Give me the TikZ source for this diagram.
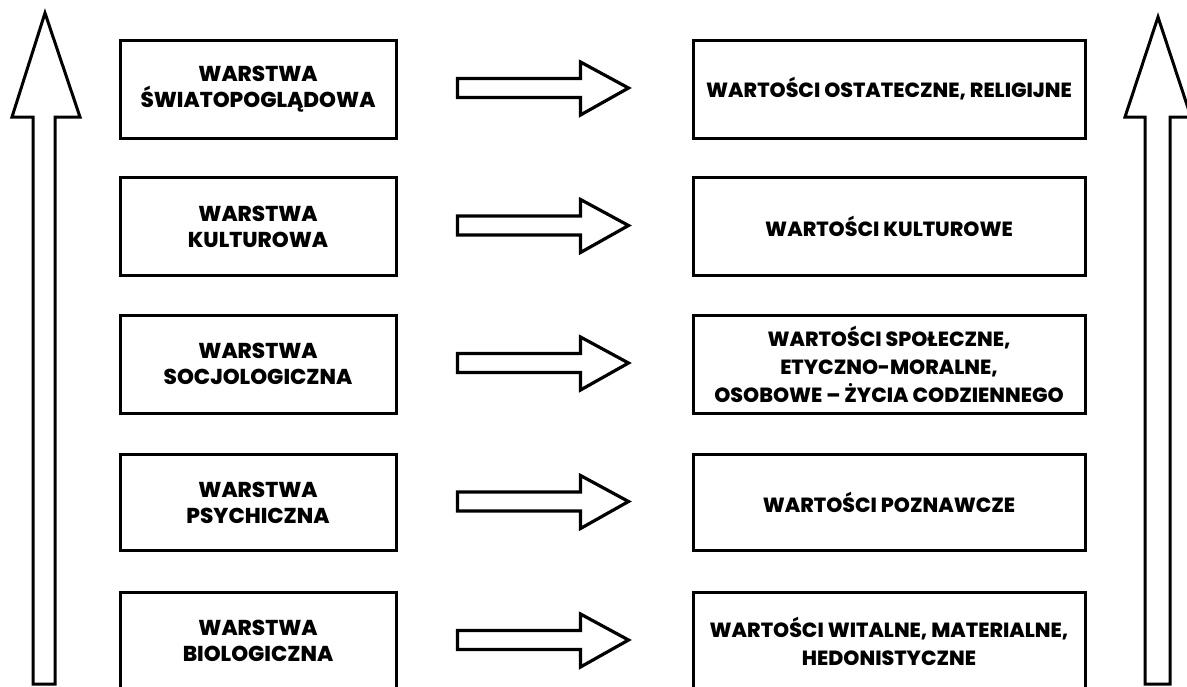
\documentclass[tikz,border=0pt]{standalone}
\usepackage{fontspec}
\setmainfont{Poppins}[BoldFont={Poppins ExtraBold}]
\usetikzlibrary{calc}
\tikzset{
  lbox/.style={draw, line width=3pt, minimum width=276pt, minimum height=98pt, align=center, font=\fontsize{21.5}{26}\selectfont\bfseries, inner sep=0pt},
  rbox/.style={draw, line width=3pt, minimum width=392pt, minimum height=98pt, align=center, font=\fontsize{20.5}{28}\selectfont\bfseries, inner sep=0pt},
  bigarrow/.style={draw, line width=3pt, line join=miter, fill=white},
  midarrow/.style={draw, line width=3.2pt, line join=miter, fill=white},
}
\begin{document}
\begin{tikzpicture}[x=1pt,y=-1pt]
\useasboundingbox (0,0) rectangle (1187,686);
% left big arrow
\draw[bigarrow] (33,684) -- (33,117) -- (12,117) -- (45,13) -- (80,117) -- (55,117) -- (55,684) -- cycle;
% right big arrow
\draw[bigarrow] (1145,684) -- (1145,117) -- (1125,117) -- (1158,17) -- (1191,117) -- (1170,117) -- (1170,684) -- cycle;
% left boxes
\node[lbox] (l1) at (258,89) {WARSTWA\\ŚWIATOPOGLĄDOWA};
\node[lbox] (l2) at (258,226.5) {WARSTWA\\KULTUROWA};
\node[lbox] (l3) at (258,364) {WARSTWA\\SOCJOLOGICZNA};
\node[lbox, minimum height=96pt] (l4) at (258,502.5) {WARSTWA\\PSYCHICZNA};
\node[lbox] (l5) at (258,641) {WARSTWA\\BIOLOGICZNA};
% right boxes
\node[rbox] (r1) at (889,89) {WARTOŚCI OSTATECZNE, RELIGIJNE};
\node[rbox] (r2) at (889,226.5) {WARTOŚCI KULTUROWE};
\node[rbox] (r3) at (889,364) {WARTOŚCI SPOŁECZNE,\\ETYCZNO-MORALNE,\\OSOBOWE -- ŻYCIA CODZIENNEGO};
\node[rbox, minimum height=96pt] (r4) at (889,502.5) {WARTOŚCI POZNAWCZE};
\node[rbox] (r5) at (889,641) {WARTOŚCI WITALNE, MATERIALNE,\\HEDONISTYCZNE};
% middle block arrows
\foreach \i in {1,...,5}{
  \coordinate (m\i) at ($(l\i.east)!0.5!(r\i.west)+(0,-1)$);
  \draw[midarrow] ($(m\i)+(-87,-9.5)$) -- ($(m\i)+(36,-9.5)$) -- ($(m\i)+(36,-26)$) -- ($(m\i)+(84,0)$)
     -- ($(m\i)+(36,27)$) -- ($(m\i)+(36,9.5)$) -- ($(m\i)+(-87,9.5)$) -- cycle;
}
\end{tikzpicture}
\end{document}
